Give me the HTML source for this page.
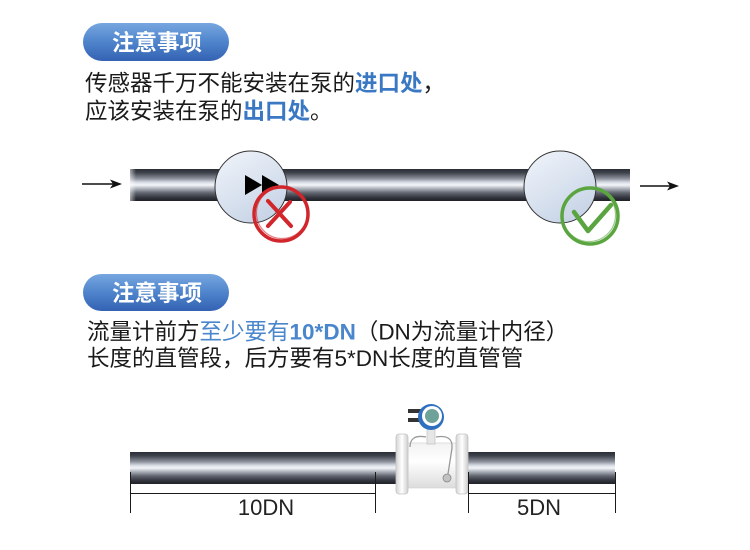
<!DOCTYPE html>
<html>
<head>
<meta charset="utf-8">
<style>
  html,body{margin:0;padding:0;background:#fff;}
  body{width:750px;height:550px;overflow:hidden;}
  svg{display:block;}
  text{font-family:"Liberation Sans","Noto Sans CJK SC",sans-serif;}
</style>
</head>
<body>
<svg width="750" height="550" viewBox="0 0 750 550" xmlns="http://www.w3.org/2000/svg">
  <defs>
    <linearGradient id="badge" x1="0" y1="0" x2="0" y2="1">
      <stop offset="0" stop-color="#77a7e0"/>
      <stop offset="0.5" stop-color="#4f84cc"/>
      <stop offset="1" stop-color="#3362b2"/>
    </linearGradient>
    <linearGradient id="pipe" x1="0" y1="0" x2="0" y2="1">
      <stop offset="0" stop-color="#2a2d35"/>
      <stop offset="0.12" stop-color="#3f434c"/>
      <stop offset="0.3" stop-color="#8b909b"/>
      <stop offset="0.42" stop-color="#d9dde5"/>
      <stop offset="0.5" stop-color="#f3f5f9"/>
      <stop offset="0.58" stop-color="#c1c5cd"/>
      <stop offset="0.75" stop-color="#60646e"/>
      <stop offset="0.9" stop-color="#30333b"/>
      <stop offset="1" stop-color="#1f2127"/>
    </linearGradient>
    <linearGradient id="pipeEnd" x1="0" y1="0" x2="1" y2="0">
      <stop offset="0" stop-color="#ffffff" stop-opacity="0.55"/>
      <stop offset="1" stop-color="#ffffff" stop-opacity="0"/>
    </linearGradient>
    <linearGradient id="sensor" x1="0.2" y1="0" x2="0.8" y2="1">
      <stop offset="0" stop-color="#eef2f9"/>
      <stop offset="1" stop-color="#c4d2e5"/>
    </linearGradient>
    <linearGradient id="flange" x1="0" y1="0" x2="1" y2="0">
      <stop offset="0" stop-color="#d4d4d4"/>
      <stop offset="0.5" stop-color="#ffffff"/>
      <stop offset="1" stop-color="#cdcdcd"/>
    </linearGradient>
    <linearGradient id="body" x1="0" y1="0" x2="0" y2="1">
      <stop offset="0" stop-color="#f2f2f2"/>
      <stop offset="0.4" stop-color="#ffffff"/>
      <stop offset="1" stop-color="#dcdcdc"/>
    </linearGradient>
  </defs>

  <!-- ===== Section 1 ===== -->
  <rect x="83" y="23" width="146" height="38" rx="19" fill="url(#badge)"/>
  <text x="157" y="50.5" font-size="22.5" font-weight="bold" fill="#ffffff" text-anchor="middle">注意事项</text>

  <text x="85" y="91" font-size="22.5" fill="#1a1a1a">传感器千万不能安装在泵的<tspan fill="#3a78c4" font-weight="bold">进口处</tspan>，</text>
  <text x="85" y="119" font-size="22.5" fill="#1a1a1a">应该安装在泵的<tspan fill="#3a78c4" font-weight="bold">出口处</tspan>。</text>

  <!-- arrows -->
  <line x1="82" y1="184" x2="114" y2="184" stroke="#111" stroke-width="1.6"/>
  <polygon points="110,179.5 122,184 110,188.5 113,184" fill="#111"/>
  <line x1="640" y1="186" x2="671" y2="186" stroke="#111" stroke-width="1.6"/>
  <polygon points="667,181.5 679,186 667,190.5 670,186" fill="#111"/>

  <!-- pipe -->
  <rect x="130" y="169" width="500" height="32" fill="url(#pipe)"/>
  <rect x="130" y="169" width="6" height="32" fill="url(#pipeEnd)"/>

  <!-- left sensor (wrong) -->
  <circle cx="251" cy="187" r="36" fill="url(#sensor)" stroke="#333" stroke-width="1"/>
  <polygon points="245,175 262,185 245,195" fill="#000"/>
  <polygon points="262,175 279,185 262,195" fill="#000"/>
  <circle cx="281" cy="214" r="27" fill="none" stroke="#d0262c" stroke-width="3.5"/>
  <circle cx="282" cy="213" r="25.5" fill="none" stroke="#d0262c" stroke-width="1.2" opacity="0.6"/>
  <line x1="268" y1="201" x2="291" y2="226" stroke="#d0262c" stroke-width="4" stroke-linecap="round"/>
  <line x1="290" y1="202" x2="268" y2="226" stroke="#d0262c" stroke-width="4" stroke-linecap="round"/>

  <!-- right sensor (correct) -->
  <circle cx="560" cy="187" r="36" fill="url(#sensor)" stroke="#333" stroke-width="1"/>
  <circle cx="590" cy="216" r="28" fill="none" stroke="#5aa540" stroke-width="3.5"/>
  <circle cx="589" cy="215" r="26.5" fill="none" stroke="#5aa540" stroke-width="1.2" opacity="0.6"/>
  <polyline points="574,212 588,231 611,205" fill="none" stroke="#5aa540" stroke-width="4.5" stroke-linecap="round" stroke-linejoin="round"/>

  <!-- ===== Section 2 ===== -->
  <rect x="83" y="274" width="146" height="37" rx="18.5" fill="url(#badge)"/>
  <text x="157" y="301" font-size="22.5" font-weight="bold" fill="#ffffff" text-anchor="middle">注意事项</text>

  <text x="87" y="339.5" font-size="22.5" fill="#1a1a1a">流量计前方<tspan fill="#4a86cc">至少要有</tspan><tspan fill="#4a86cc" font-weight="bold">10*DN</tspan>（DN为流量计内径）</text>
  <text x="87" y="366" font-size="22.5" fill="#1a1a1a">长度的直管段，后方要有5*DN长度的直管管</text>

  <!-- pipes -->
  <rect x="130" y="452" width="270" height="32" fill="url(#pipe)"/>
  <rect x="465" y="452" width="150" height="32" fill="url(#pipe)"/>

  <!-- flowmeter -->
  <rect x="408" y="443" width="48" height="45" fill="url(#body)" stroke="#d0d0d0" stroke-width="0.6"/>
  <rect x="396" y="434" width="12" height="60" rx="3" fill="url(#flange)" stroke="#c4c4c4" stroke-width="0.8"/>
  <rect x="456" y="434" width="12" height="60" rx="3" fill="url(#flange)" stroke="#c4c4c4" stroke-width="0.8"/>
  <path d="M426 437 Q410 434 410 447" fill="none" stroke="#9a9a9a" stroke-width="1.3"/>
  <path d="M436 437 Q453 434 452 448 L448 474" fill="none" stroke="#9a9a9a" stroke-width="1.3"/>
  <circle cx="447" cy="478" r="4" fill="#c2c2c2" stroke="#888" stroke-width="0.8"/>
  <rect x="427" y="428" width="8" height="16" fill="#e6e6e6" stroke="#b8b8b8" stroke-width="0.6"/>
  <rect x="408" y="409" width="13" height="4" fill="#333"/>
  <rect x="408" y="418" width="13" height="4" fill="#333"/>
  <circle cx="431" cy="417" r="13" fill="#2f6fc0"/>
  <circle cx="432" cy="416" r="10" fill="#ffffff"/>
  <circle cx="432" cy="416" r="7" fill="#6fa39a"/>

  <!-- dimension lines -->
  <g stroke="#1a1a1a" stroke-width="1">
    <line x1="130.5" y1="472" x2="130.5" y2="513"/>
    <line x1="375.5" y1="472" x2="375.5" y2="513"/>
    <line x1="130.5" y1="493.5" x2="375.5" y2="493.5"/>
    <line x1="468.5" y1="472" x2="468.5" y2="513"/>
    <line x1="615.5" y1="472" x2="615.5" y2="513"/>
    <line x1="468.5" y1="493.5" x2="615.5" y2="493.5"/>
  </g>
  <text x="266" y="515" font-size="22" fill="#222" text-anchor="middle">10DN</text>
  <text x="539" y="515" font-size="22" fill="#222" text-anchor="middle">5DN</text>
</svg>
</body>
</html>
